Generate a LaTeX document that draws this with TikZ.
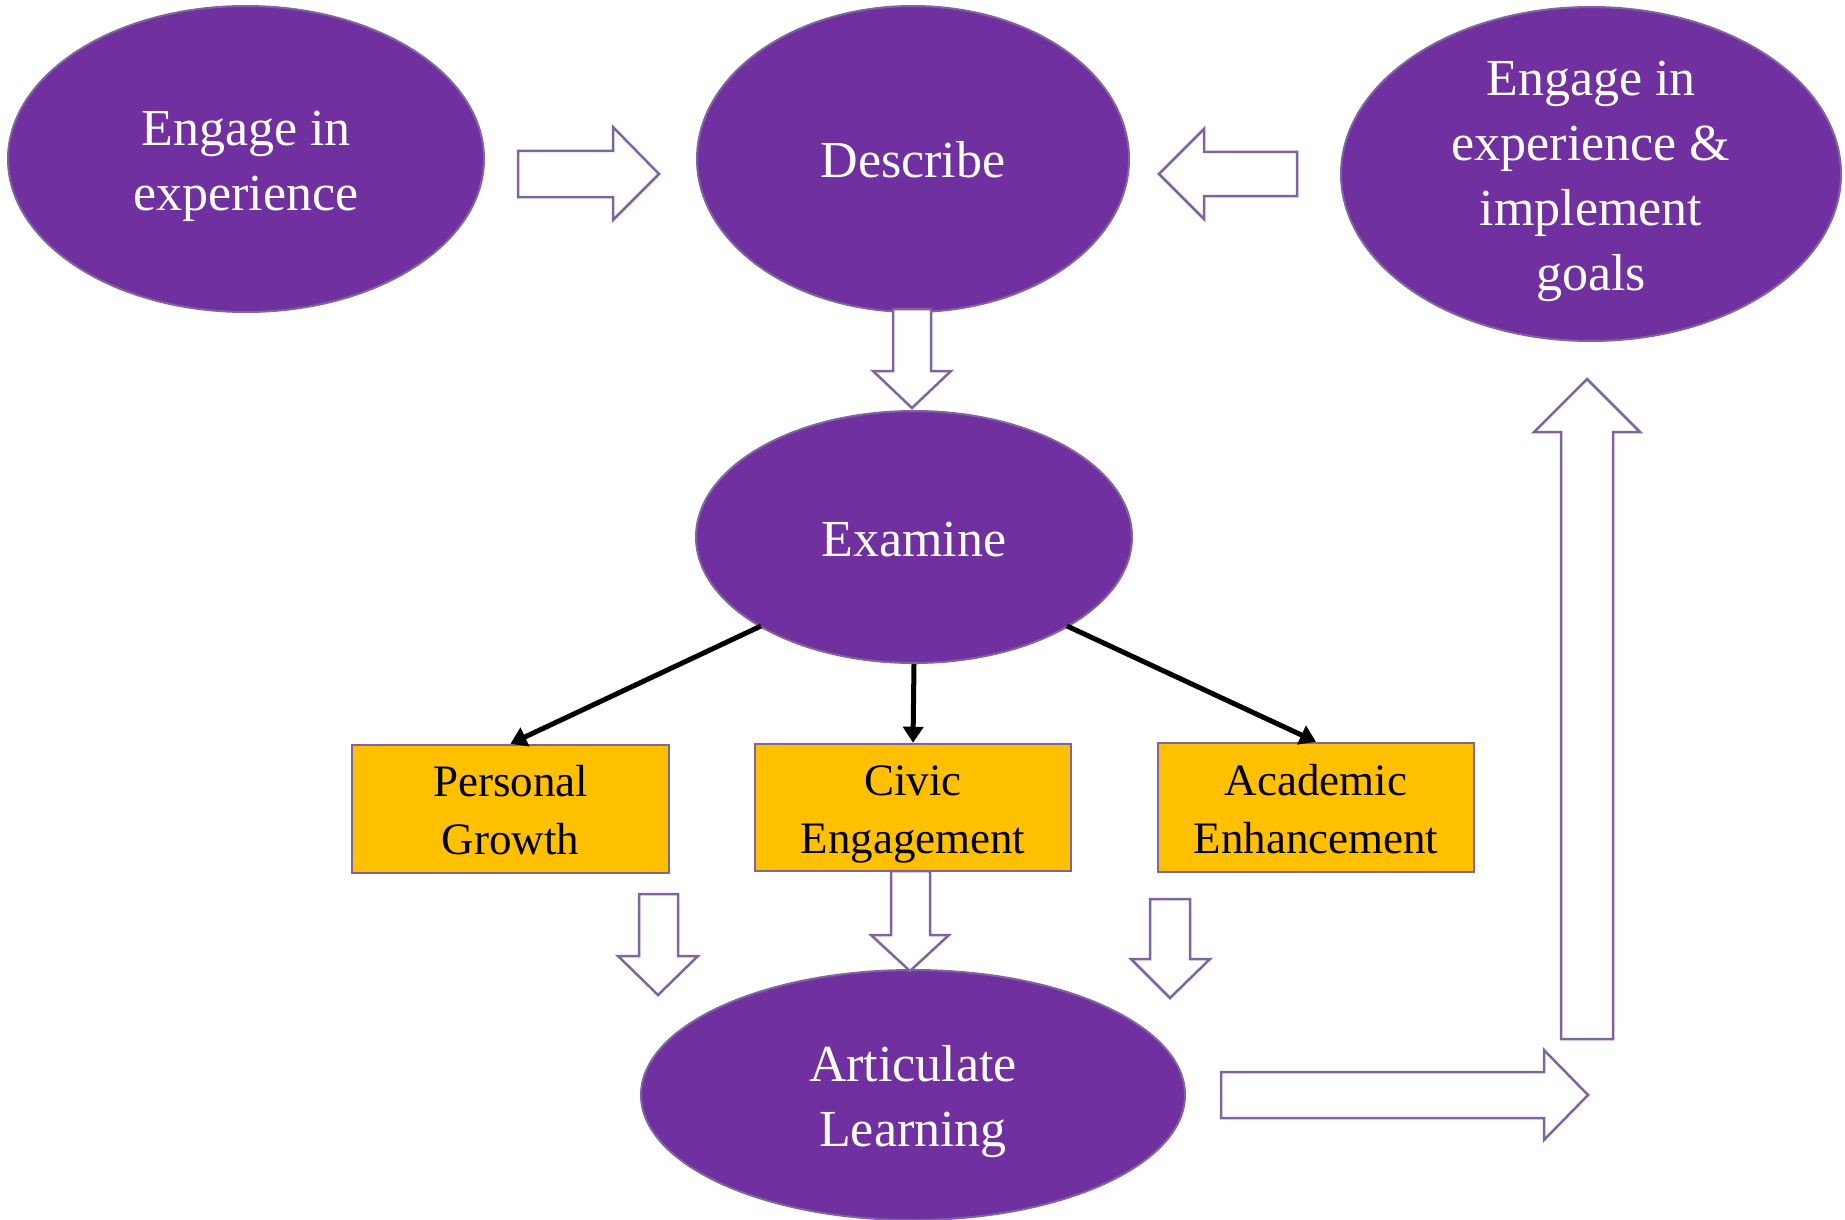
\documentclass[tikz,border=0pt]{standalone}
\usepackage{fontspec}
\setmainfont{Liberation Serif}
\usetikzlibrary{shapes.geometric,arrows.meta}
\definecolor{pfill}{HTML}{7030A0}
\definecolor{pline}{HTML}{8064A2}
\definecolor{gold}{HTML}{FFC000}
\tikzset{
  oval/.style={ellipse, draw=pline, line width=2pt, fill=pfill, inner sep=0pt},
  otext/.style={text=white, align=center, inner sep=0pt, yshift=-6pt,
     font=\fontsize{52}{65}\selectfont},
  gbox/.style={rectangle, draw=pline, line width=2.5pt, fill=gold, inner sep=0pt},
  btext/.style={text=black, align=center, inner sep=0pt, yshift=-5pt,
     font=\fontsize{45}{58}\selectfont},
  blk/.style={draw=pline, line width=2.5pt, fill=white, line join=miter},
  link/.style={line width=5pt, -{Triangle[length=16pt,width=20pt]}}
}
\begin{document}
\begin{tikzpicture}[x=1pt,y=-1pt]
\useasboundingbox (0,0) rectangle (1845,1220);
% ellipses
\node[oval, minimum width=476pt, minimum height=306pt] (eng) at (246,159) {};
\node[otext] (engt) at (eng.center) {\strut Engage in\\experience\strut};
\node[oval, minimum width=432pt, minimum height=306pt] (desc) at (913,159) {};
\node[otext] (desct) at (desc.center) {\strut Describe\strut};
\node[oval, minimum width=500pt, minimum height=334pt] (impl) at (1591,174) {};
\node[otext] (implt) at (impl.center) {\strut Engage in\\experience \&\\implement\\goals\strut};
\node[oval, minimum width=436pt, minimum height=252pt] (exam) at (914,537) {};
\node[otext] (examt) at (exam.center) {\strut Examine\strut};
\node[oval, minimum width=544pt, minimum height=250pt] (art) at (913,1095) {};
\node[otext] (artt) at (art.center) {\strut Articulate\\Learning\strut};
% boxes
\node[gbox, minimum width=317pt, minimum height=128pt] (pers) at (510.5,809) {};
\node[btext] (perst) at (pers.center) {\strut Personal\\Growth\strut};
\node[gbox, minimum width=316pt, minimum height=127pt] (civ) at (913,807.5) {};
\node[btext] (civt) at (civ.center) {\strut Civic\\Engagement\strut};
\node[gbox, minimum width=316pt, minimum height=129pt] (acad) at (1316,807.5) {};
\node[btext] (acadt) at (acad.center) {\strut Academic\\Enhancement\strut};
% black connectors
\coordinate (e1) at (761,626);
\coordinate (e3) at (1067,626);
\draw[link] (e1) -- (pers.north);
\draw[link] (exam.south) -- (civ.north);
\draw[link] (e3) -- (acad.north);
% block arrows
\draw[blk] (518,151) -- (613,151) -- (613,127) -- (659,174) -- (613,220) -- (613,197) -- (518,197) -- cycle;
\draw[blk] (1297,152) -- (1204,152) -- (1204,129) -- (1159,174) -- (1204,219) -- (1204,196) -- (1297,196) -- cycle;
\draw[blk] (893,309) -- (893,371) -- (873,371) -- (912,408) -- (951,371) -- (931,371) -- (931,309) -- cycle;
\draw[blk] (1561,1039) -- (1561,432) -- (1534,432) -- (1587,379) -- (1640,432) -- (1613,432) -- (1613,1039) -- cycle;
\draw[blk] (1221,1072) -- (1544,1072) -- (1544,1050) -- (1588,1095) -- (1544,1140) -- (1544,1118) -- (1221,1118) -- cycle;
\draw[blk] (639,894) -- (639,956) -- (618,956) -- (658,995) -- (698,956) -- (678,956) -- (678,894) -- cycle;
\draw[blk] (891,871) -- (891,935) -- (871,935) -- (910,971) -- (949,935) -- (930,935) -- (930,871) -- cycle;
\draw[blk] (1150,899) -- (1150,959) -- (1131,959) -- (1170,998) -- (1210,959) -- (1190,959) -- (1190,899) -- cycle;
\end{tikzpicture}
\end{document}
